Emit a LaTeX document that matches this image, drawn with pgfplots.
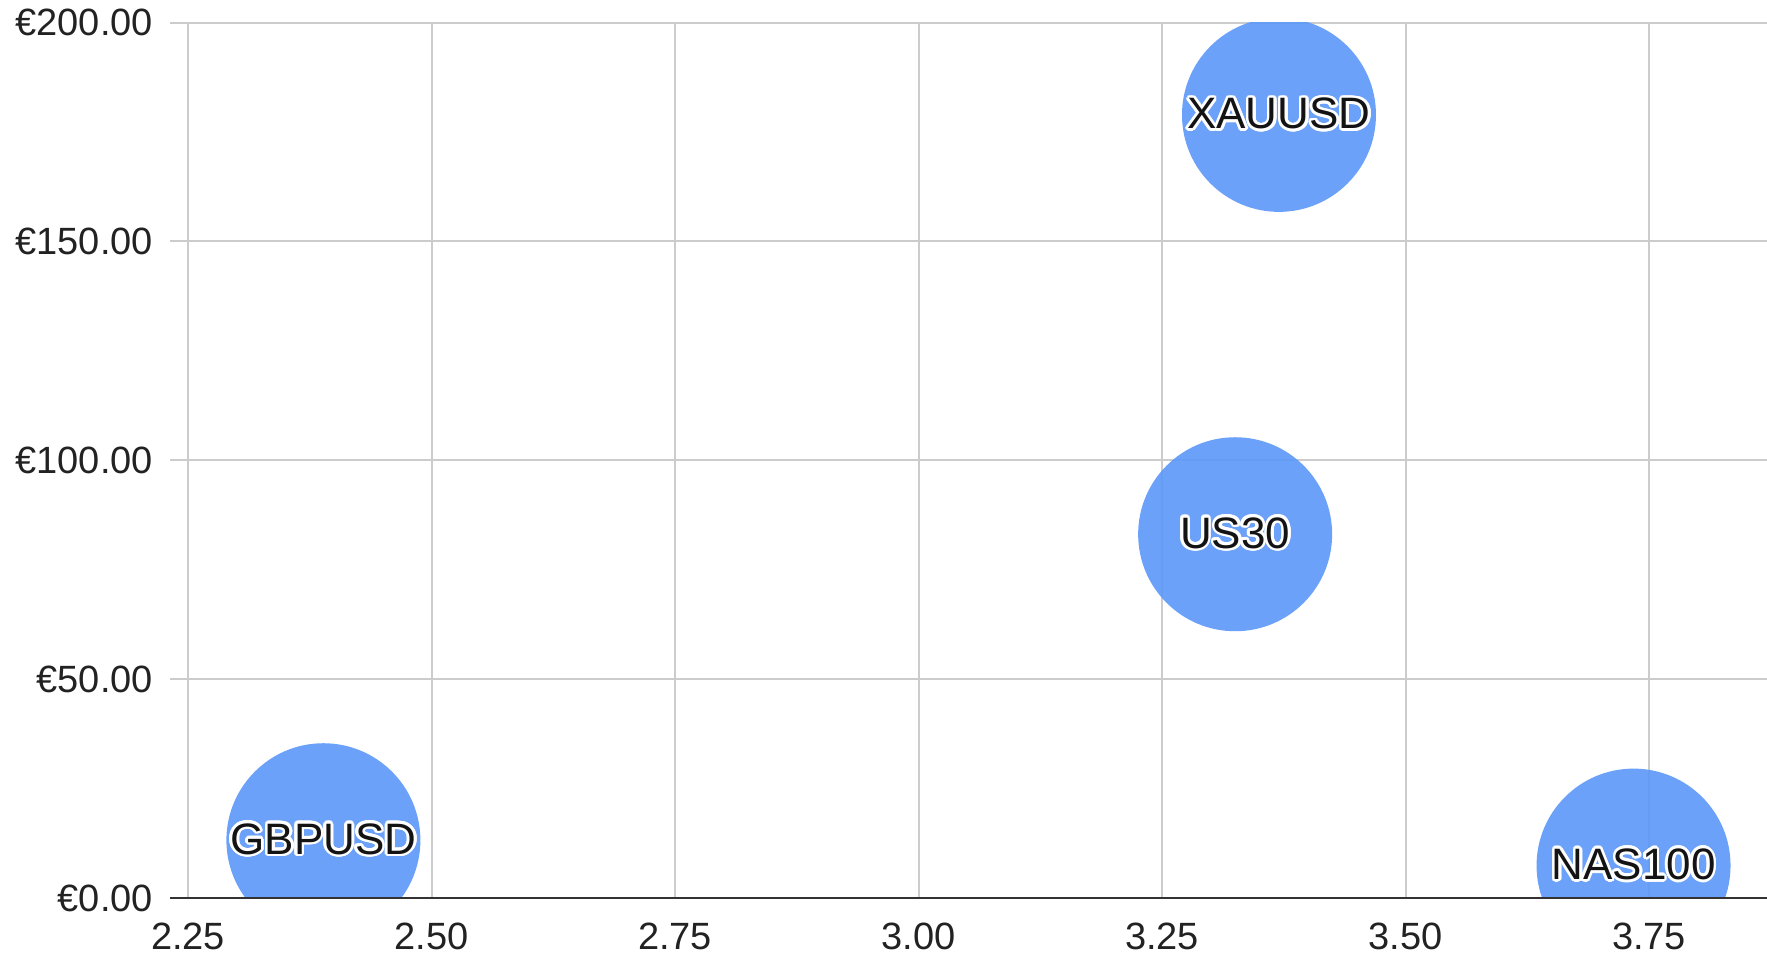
\documentclass[border=0pt]{standalone}
\usepackage{pgfplots}
\pgfplotsset{compat=1.18}
\usepackage{pgfplotstable}
\usepackage{fontspec}
\setmainfont{Liberation Sans}
\usepackage{contour}
\contourlength{1.3pt}
\contournumber{24}
\definecolor{bub}{RGB}{94,153,248}
\definecolor{gridc}{RGB}{204,204,204}
\definecolor{txt}{RGB}{34,34,34}

\pgfplotstableread{
x y label
2.389 13.2 GBPUSD
3.325 83.1 US30
3.370 178.9 XAUUSD
3.734 7.4 NAS100
}\bubbles

\begin{document}
\begin{tikzpicture}
\begin{axis}[
  name=ax,
  at={(0,0)}, anchor=south west,
  scale only axis, width=789.5pt, height=437.75pt,
  xmin=2.25, xmax=3.871, ymin=0, ymax=200,
  xtick={2.25,2.5,2.75,3,3.25,3.5,3.75},
  xticklabels={2.25,2.50,2.75,3.00,3.25,3.50,3.75},
  ytick={0,50,100,150,200},
  yticklabels={€0.00,€50.00,€100.00,€150.00,€200.00},
  axis line style={draw=none},
  grid=major,
  grid style={gridc, line width=1pt},
  tick pos=left,
  tick align=outside,
  major tick length=9pt,
  ytick style={gridc, line width=1pt},
  xtick style={draw=none},
  tick label style={font=\fontsize{19}{21}\selectfont, text=txt},
  yticklabel style={xshift=-5pt},
  xticklabel style={yshift=0pt},
  clip marker paths=true,
  point meta=explicit symbolic,
  nodes near coords={\contour{white}{\pgfplotspointmeta}},
  nodes near coords align={center},
  every node near coord/.style={anchor=center, font=\fontsize{22}{24}\selectfont, text=black},
]
\addplot[only marks, mark=*, mark size=48.5pt, color=bub,
  mark options={draw=bub, draw opacity=0, fill=bub, fill opacity=0.92}]
  table[x=x, y=y, meta=label] {\bubbles};
\end{axis}
\draw[black!80, line width=1pt] (-9pt,0) -- (789.5pt,0);
\pgfresetboundingbox
\useasboundingbox (-94pt,-28.5pt) rectangle (789.5pt,449pt);
\end{tikzpicture}
\end{document}
